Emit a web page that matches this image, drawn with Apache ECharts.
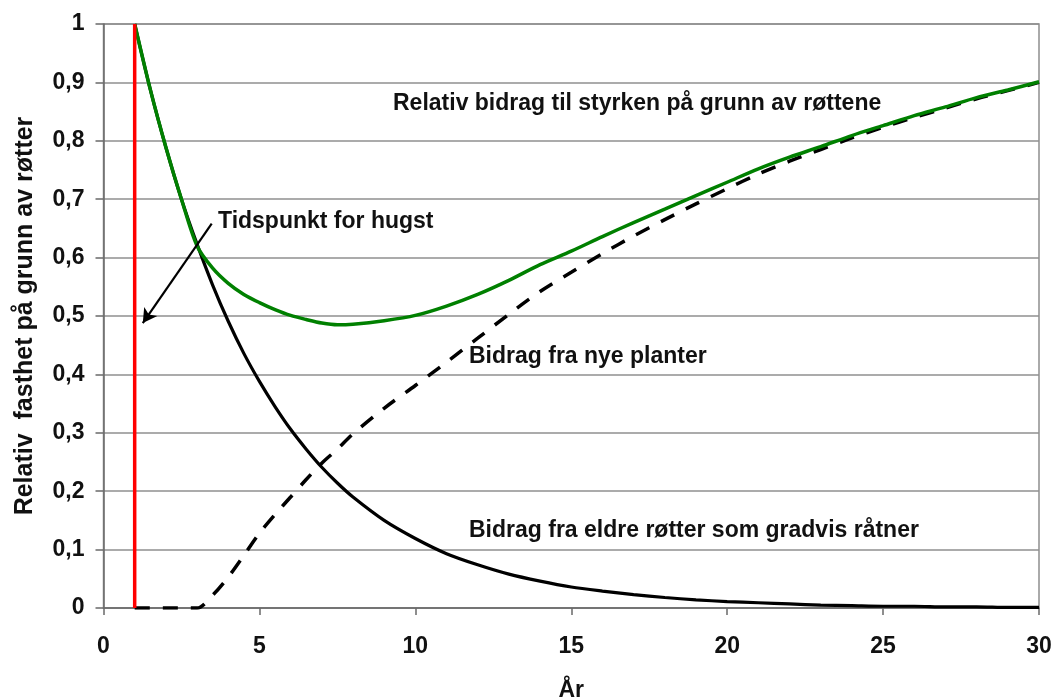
<!DOCTYPE html>
<html>
<head>
<meta charset="utf-8">
<script src="https://cdn.jsdelivr.net/npm/echarts@6/dist/echarts.min.js"></script>
<style>
  html, body { margin: 0; padding: 0; background: #fff; }
  #chart { width: 1057px; height: 698px; }
</style>
</head>
<body>
<div id="chart"></div>
<script>
// Years after planting (x values shared by all three curves)
const years = [1, 1.5, 2, 2.5, 3, 3.5, 4, 4.5, 5, 5.5, 6, 6.5, 7, 7.5, 8, 9, 10, 11, 12, 13, 14, 15,
  16, 17, 18, 19, 20, 21, 22, 23, 24, 25, 26, 27, 28, 29, 30];

// Contribution from old roots that gradually rot
const oldRoots = [1.0, 0.888, 0.789, 0.70, 0.623, 0.553, 0.491, 0.436, 0.388, 0.345, 0.306, 0.272, 0.241, 0.214, 0.190,
  0.150, 0.119, 0.093, 0.074, 0.058, 0.046, 0.036, 0.029, 0.023, 0.018, 0.014, 0.011,
  0.009, 0.007, 0.005, 0.004, 0.003, 0.003, 0.002, 0.002, 0.001, 0.001];

// Contribution from new plants
const newPlants = [0, 0, 0, 0, 0, 0.022, 0.053, 0.09, 0.128, 0.16, 0.19, 0.22, 0.248, 0.272, 0.298,
  0.342, 0.381, 0.421, 0.462, 0.503, 0.542, 0.575, 0.607, 0.637, 0.665, 0.692, 0.718,
  0.743, 0.765, 0.785, 0.805, 0.823, 0.840, 0.856, 0.872, 0.886, 0.90];

// Total relative contribution to strength from the roots
const totalStrength = [1.0, 0.888, 0.789, 0.70, 0.62, 0.582, 0.556, 0.537, 0.523, 0.511, 0.501, 0.494, 0.488, 0.485, 0.486,
  0.492, 0.501, 0.517, 0.537, 0.561, 0.588, 0.611, 0.636, 0.66, 0.683, 0.706, 0.729,
  0.752, 0.772, 0.79, 0.809, 0.826, 0.843, 0.858, 0.874, 0.887, 0.901];

// Felling time (vertical marker)
const fellingYear = 1;

// Annotation arrow: from label towards the felling line, in data units
const arrowFrom = [3.47, 0.658];
const arrowTo = [1.26, 0.488];

// Labels
const yAxisTitle = 'Relativ  fasthet på grunn av røtter';
const xAxisTitle = 'År';
const labelTotal = 'Relativ bidrag til styrken på grunn av røttene';
const labelFelling = 'Tidspunkt for hugst';
const labelNew = 'Bidrag fra nye planter';
const labelOld = 'Bidrag fra eldre røtter som gradvis råtner';

const pairs = (vals) => years.map((x, i) => [x, vals[i]]);

const FONT = '"Liberation Sans", Arial, sans-serif';
const textColor = '#111';

const chart = echarts.init(document.getElementById('chart'), null, { renderer: 'canvas' });

const option = {
  animation: false,
  backgroundColor: '#fff',
  grid: {
    left: 103.5, right: 18, top: 24, bottom: 90,
    outerBoundsMode: 'none', containLabel: false,
    show: true, borderColor: '#8f8f8f', borderWidth: 1.5
  },
  xAxis: {
    type: 'value', min: 0, max: 30, interval: 5,
    name: xAxisTitle, nameLocation: 'middle', nameGap: 71,
    nameTextStyle: { fontFamily: FONT, fontWeight: 'bold', fontSize: 23, color: textColor },
    axisLine: { show: true, onZero: false, lineStyle: { color: '#6a6a6a', width: 1.5 } },
    axisTick: { show: true, length: 7, lineStyle: { color: '#6a6a6a', width: 1.5 } },
    splitLine: { show: false },
    axisLabel: { fontFamily: FONT, fontWeight: 'bold', fontSize: 23, color: textColor, margin: 27 }
  },
  yAxis: {
    type: 'value', min: 0, max: 1, interval: 0.1,
    name: yAxisTitle, nameLocation: 'middle', nameGap: 66, nameRotate: 90,
    nameTextStyle: { fontFamily: FONT, fontWeight: 'bold', fontSize: 25, color: textColor },
    axisLine: { show: true, lineStyle: { color: '#6a6a6a', width: 1.5 } },
    axisTick: { show: true, length: 8, lineStyle: { color: '#6a6a6a', width: 1.5 } },
    splitLine: { show: true, lineStyle: { color: '#8f8f8f', width: 1.5 } },
    axisLabel: {
      fontFamily: FONT, fontWeight: 'bold', fontSize: 23, color: textColor, margin: 19,
      formatter: (v) => {
        const r = Math.round(v * 10) / 10;
        if (r === 0) return '0';
        if (r === 1) return '1';
        return r.toFixed(1).replace('.', ',');
      }
    }
  },
  series: [
    {
      name: labelOld, type: 'line', data: pairs(oldRoots), smooth: 0.3,
      showSymbol: false, z: 3,
      lineStyle: { color: '#000', width: 3.2 }
    },
    {
      name: labelNew, type: 'line', data: pairs(newPlants), smooth: 0.3,
      showSymbol: false, z: 3,
      lineStyle: { color: '#000', width: 3.5, type: [15, 13] }
    },
    {
      name: labelTotal, type: 'line', data: pairs(totalStrength), smooth: 0.3,
      showSymbol: false, z: 4,
      lineStyle: { color: '#008000', width: 3.5 },
      markLine: {
        silent: true, symbol: ['none', 'arrow'], symbolSize: [12, 14],
        label: { show: false },
        lineStyle: { color: '#000', width: 2.2, type: 'solid' },
        data: [[{ coord: arrowFrom }, { coord: arrowTo }]]
      }
    },
    {
      name: labelFelling, type: 'line', data: [[fellingYear, 0], [fellingYear, 1]],
      showSymbol: false, z: 5,
      lineStyle: { color: '#ff0000', width: 3.5 }
    }
  ],
  graphic: [
    { type: 'text', left: 393, top: 92, z: 10,
      style: { text: labelTotal, font: 'bold 23px ' + FONT, fill: textColor } },
    { type: 'text', left: 218, top: 210, z: 10,
      style: { text: labelFelling, font: 'bold 23px ' + FONT, fill: textColor } },
    { type: 'text', left: 469, top: 345, z: 10,
      style: { text: labelNew, font: 'bold 23px ' + FONT, fill: textColor } },
    { type: 'text', left: 469, top: 519, z: 10,
      style: { text: labelOld, font: 'bold 23px ' + FONT, fill: textColor } }
  ]
};

chart.setOption(option);
</script>
</body>
</html>
